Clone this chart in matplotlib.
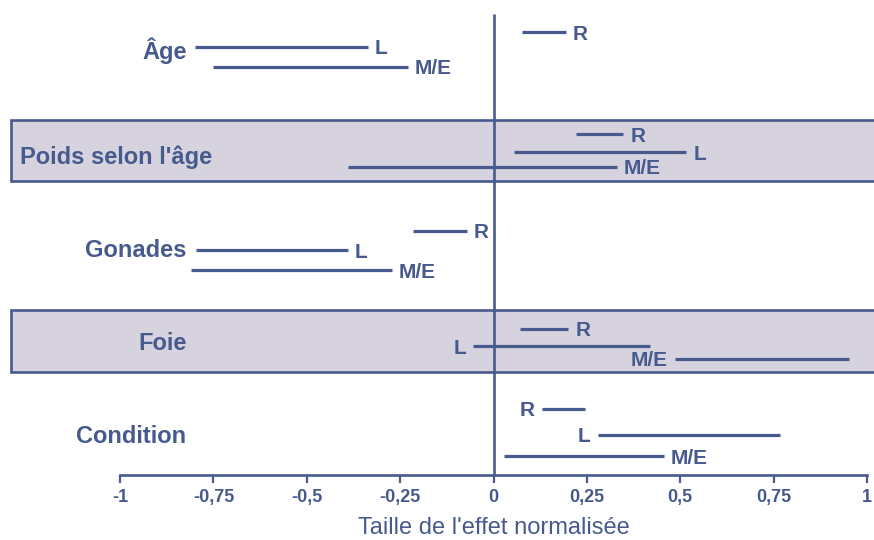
import matplotlib.pyplot as plt
from matplotlib.patches import Rectangle

plt.rcParams['font.family'] = ['Liberation Sans', 'DejaVu Sans']

# intervalles de taille d'effet normalisée par critère et par type de mesure
groupes = ['Âge', "Poids selon l'âge", 'Gonades', 'Foie', 'Condition']
mesures = ['R', 'L', 'M/E']
intervalles_R = [(0.075, 0.193), (0.222, 0.348), (-0.215, -0.072), (0.07, 0.20), (0.13, 0.244)]
intervalles_L = [(-0.80, -0.337), (0.055, 0.516), (-0.796, -0.39), (-0.054, 0.419), (0.279, 0.767)]
intervalles_ME = [(-0.751, -0.229), (-0.39, 0.331), (-0.81, -0.273), (0.486, 0.953), (0.028, 0.456)]
graduations = [-1, -0.75, -0.5, -0.25, 0, 0.25, 0.5, 0.75, 1]
etiquettes_x = ['-1', '-0,75', '-0,5', '-0,25', '0', '0,25', '0,5', '0,75', '1']

# mise en page (ordonnées en pixels depuis le haut)
lignes_y = [(32, 47, 67), (134, 152, 167), (231, 250, 270), (329, 346, 359), (409, 435, 456)]
titres_y = [48, 155, 248, 341, 434]
bandes = [(120, 181), (310, 372)]          # groupes sur fond grisé
etiquette_gauche = {(3, 1), (3, 2), (4, 0), (4, 1)}

bleu = '#475a8e'
gris = '#d6d3df'

fig = plt.figure(figsize=(8.74, 5.4), dpi=100)
ax = fig.add_axes([120 / 874, 65 / 540, 747 / 874, 475 / 540])
ax.set_xlim(-1, 1)
ax.set_ylim(475, 0)

px = 1 / 373.5  # un pixel en unités de l'axe x

for y0, y1 in bandes:
    ax.add_patch(Rectangle((-1.293, y0), 2.4, y1 - y0, facecolor=gris,
                           edgecolor=bleu, linewidth=1.9, clip_on=False, zorder=1))

ax.vlines(0, 14, 475, color=bleu, linewidth=1.9, zorder=3)

series = [intervalles_R, intervalles_L, intervalles_ME]
for g, nom in enumerate(groupes):
    for m, mesure in enumerate(mesures):
        lo, hi = series[m][g]
        y = lignes_y[g][m]
        ax.hlines(y, lo, hi, color=bleu, linewidth=2.3, zorder=4)
        if (g, m) in etiquette_gauche:
            ax.annotate(mesure, (lo, y), xytext=(-5, 0), textcoords='offset points',
                        ha='right', va='center_baseline', fontsize=15,
                        fontweight='bold', color=bleu, zorder=5)
        else:
            ax.annotate(mesure, (hi, y), xytext=(5, 0), textcoords='offset points',
                        ha='left', va='center_baseline', fontsize=15,
                        fontweight='bold', color=bleu, zorder=5)
    if g == 1:
        ax.text(-1.269, titres_y[g], nom, ha='left', va='center_baseline',
                fontsize=17, fontweight='bold', color=bleu, zorder=5)
    else:
        ax.text((187 - 494) * px, titres_y[g], nom, ha='right', va='center_baseline',
                fontsize=17, fontweight='bold', color=bleu, zorder=5)

for cote in ['top', 'left', 'right']:
    ax.spines[cote].set_visible(False)
ax.spines['bottom'].set_color(bleu)
ax.spines['bottom'].set_linewidth(1.9)
ax.patch.set_visible(False)
ax.set_yticks([])
ax.set_xticks(graduations)
ax.set_xticklabels(etiquettes_x, fontsize=13, fontweight='bold', color=bleu)
ax.tick_params(axis='x', direction='out', length=6, width=1.6, color=bleu, pad=4)

ax.set_xlabel("Taille de l'effet normalisée", fontsize=17, color=bleu, va='center_baseline')
ax.xaxis.set_label_coords(0.5, -51 / 475)

fig.savefig('out.png', dpi=100)
